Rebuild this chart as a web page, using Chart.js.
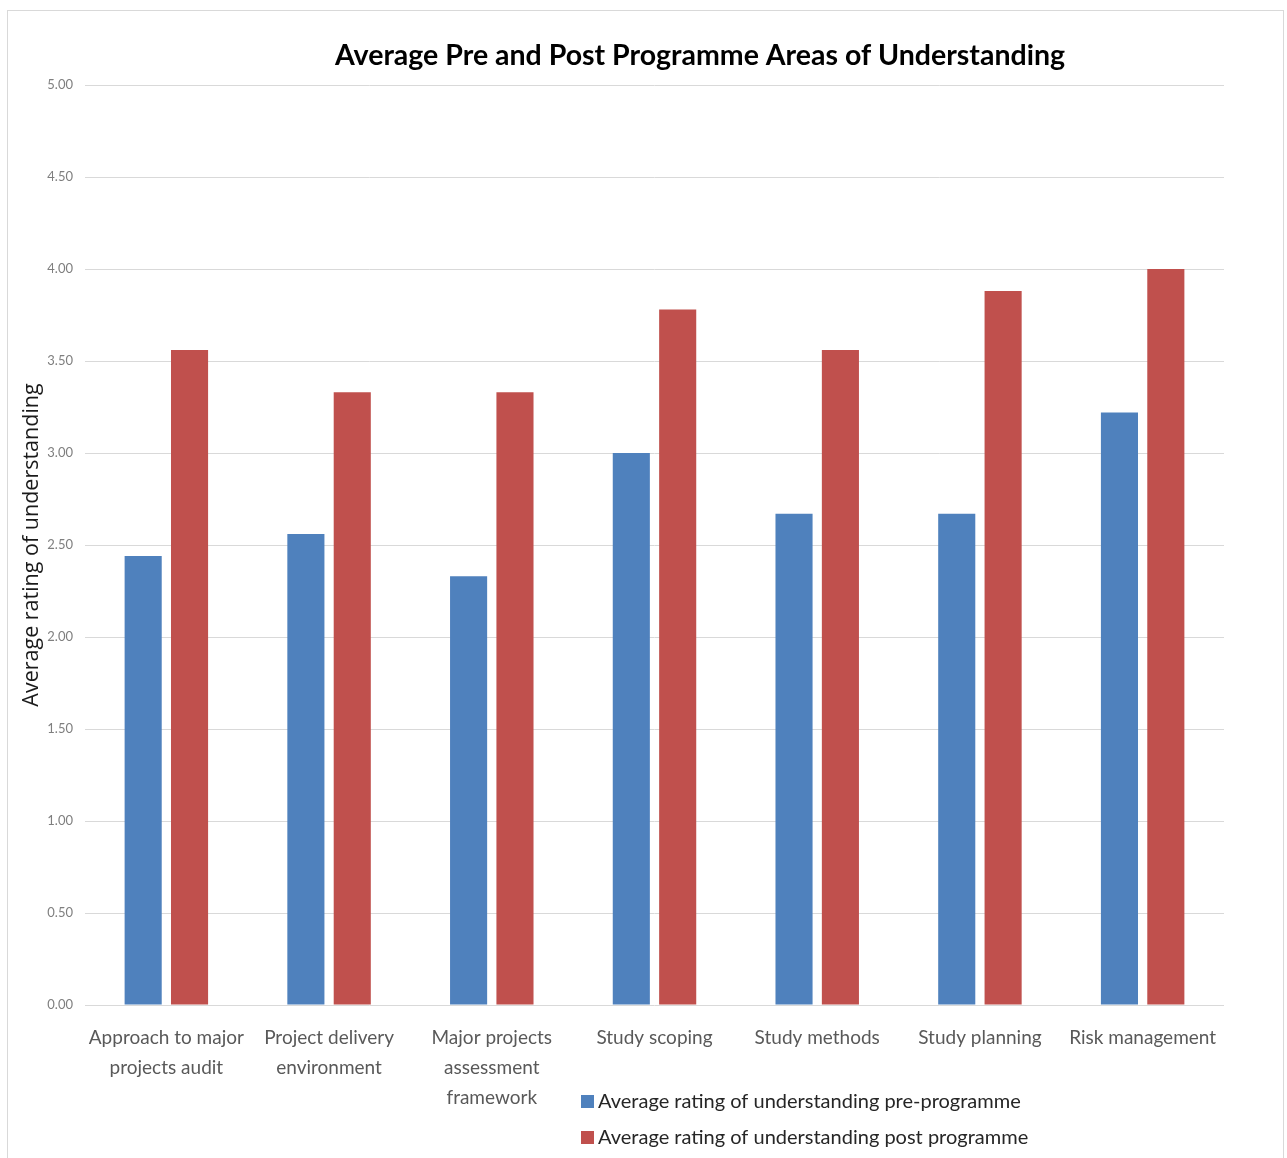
<!DOCTYPE html>
<html>
<head>
<meta charset="utf-8">
<title>Average Pre and Post Programme Areas of Understanding</title>
<script src="https://cdn.jsdelivr.net/npm/chart.js@4/dist/chart.umd.min.js"></script>
<style>
  html, body { margin: 0; padding: 0; background: #ffffff; }
  #wrap { position: relative; width: 1287px; height: 1158px; overflow: hidden; }
  #frame { position: absolute; left: 7px; top: 10px; width: 1277px; height: 1200px; border: 1px solid #d9d9d9; box-sizing: border-box; }
  #chart { position: absolute; left: 0; top: 0; }
</style>
</head>
<body>
<div id="wrap">
  <div id="frame"></div>
  <canvas id="chart" width="1287" height="1158"></canvas>
</div>
<script>
// Programme areas, one group of bars each
const categories = [
  ['Approach to major', 'projects audit'],
  ['Project delivery', 'environment'],
  ['Major projects', 'assessment', 'framework'],
  'Study scoping',
  'Study methods',
  'Study planning',
  'Risk management'
];

const seriesNames = [
  'Average rating of understanding pre-programme',
  'Average rating of understanding post programme'
];

// Average ratings before and after the programme
const preProgramme  = [2.44, 2.56, 2.33, 3.00, 2.67, 2.67, 3.22];
const postProgramme = [3.56, 3.33, 3.33, 3.78, 3.56, 3.88, 4.00];

const yTicks = [0, 0.5, 1, 1.5, 2, 2.5, 3, 3.5, 4, 4.5, 5];

const chartTitle = 'Average Pre and Post Programme Areas of Understanding';
const yAxisTitle = 'Average rating of understanding';

const colours = ['#4f81bd', '#c0504d'];
const bodyFont = 'Lato, "Liberation Sans", sans-serif';

// Title centred over the bars, drawn above the plot
const titlePlugin = {
  id: 'topTitle',
  afterDraw(chart) {
    const ctx = chart.ctx;
    ctx.save();
    ctx.font = 'bold 28.5px ' + bodyFont;
    ctx.fillStyle = '#000000';
    ctx.textAlign = 'center';
    ctx.textBaseline = 'middle';
    ctx.fillText(chartTitle, 700, 56);
    ctx.restore();
  }
};

// Two-row legend placed under the category labels
const stackedLegend = {
  id: 'stackedLegend',
  afterDraw(chart) {
    const ctx = chart.ctx;
    ctx.save();
    ctx.font = '20px ' + bodyFont;
    ctx.textBaseline = 'middle';
    ctx.textAlign = 'left';
    chart.data.datasets.forEach((ds, i) => {
      const y = 1102 + i * 36;
      ctx.fillStyle = ds.backgroundColor;
      ctx.fillRect(581, y - 7, 13, 13);
      ctx.fillStyle = '#262626';
      ctx.fillText(ds.label, 598, y);
    });
    ctx.restore();
  }
};

new Chart(document.getElementById('chart'), {
  type: 'bar',
  data: {
    labels: categories,
    datasets: [
      { label: seriesNames[0], data: preProgramme,  backgroundColor: colours[0] },
      { label: seriesNames[1], data: postProgramme, backgroundColor: colours[1] }
    ]
  },
  options: {
    responsive: false,
    animation: false,
    devicePixelRatio: 1,
    layout: { padding: { left: 8, right: 63, top: 85, bottom: 0 } },
    datasets: {
      bar: { categoryPercentage: 0.57, barPercentage: 0.8 }
    },
    plugins: {
      legend: { display: false },
      title: { display: false },
      tooltip: { enabled: false }
    },
    scales: {
      x: {
        grid: { display: false },
        border: { display: false },
        ticks: {
          color: '#595959',
          font: { family: bodyFont, size: 19, lineHeight: 1.58 },
          padding: 10,
          maxRotation: 0,
          autoSkip: false
        },
        afterFit(scale) { scale.height = 153; }
      },
      y: {
        min: 0,
        max: 5,
        afterBuildTicks(scale) { scale.ticks = yTicks.map(v => ({ value: v })); },
        grid: { color: '#d9d9d9', lineWidth: 1, drawTicks: false },
        border: { display: false },
        ticks: {
          color: '#7f7f7f',
          font: { family: bodyFont, size: 13 },
          padding: 12,
          callback: v => Number(v).toFixed(2)
        },
        title: {
          display: true,
          text: yAxisTitle,
          color: '#1a1a1a',
          font: { family: '"Open Sans", sans-serif', size: 21.5 },
          padding: { top: 11, bottom: 4 }
        },
        afterFit(scale) { scale.width = 77; }
      }
    }
  },
  plugins: [titlePlugin, stackedLegend]
});
</script>
</body>
</html>
